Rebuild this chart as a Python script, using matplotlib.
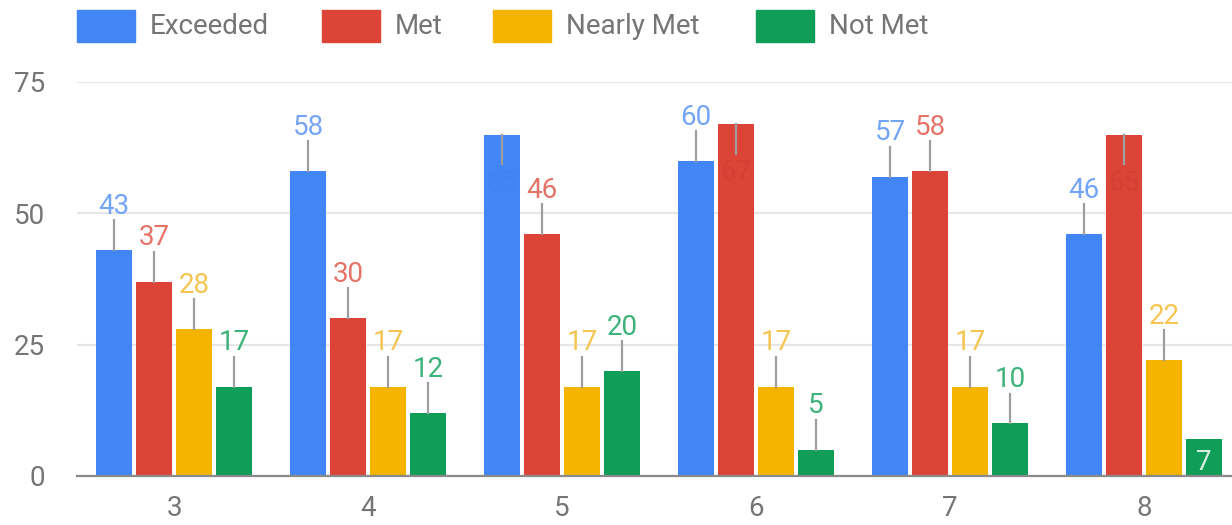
import matplotlib.pyplot as plt
from matplotlib.patches import Rectangle

# Data
grades = ['3', '4', '5', '6', '7', '8']
series = ['Exceeded', 'Met', 'Nearly Met', 'Not Met']
exceeded = [43, 58, 65, 60, 57, 46]
met = [37, 30, 46, 67, 58, 65]
nearly_met = [28, 17, 17, 17, 17, 22]
not_met = [17, 12, 20, 5, 10, 7]

colors = ['#4285F4', '#DB4437', '#F4B400', '#0F9D58']
label_colors = ['#74A4F5', '#E57368', '#F5C451', '#3DB27A']
inner_colors = ['#4083F0', '#D44134', '#EEAF00', '#D5EEE0']

plt.rcParams['font.family'] = ['Roboto', 'DejaVu Sans']

fig = plt.figure(figsize=(12.32, 5.25), dpi=100)
ax = fig.add_axes([77 / 1232, 49 / 525, 1164 / 1232, 394 / 525])

xs = range(len(grades))
step = 0.206
width = 0.19
stem = 5.7
values = [exceeded, met, nearly_met, not_met]

for i, vals in enumerate(values):
    offs = (i - 1.5) * step
    pos = [x + offs for x in xs]
    ax.bar(pos, vals, width=width, color=colors[i], zorder=2)
    for p, v in zip(pos, vals):
        if v > 62:
            # annotation doesn't fit above: stem goes down, label inside
            ax.plot([p, p], [v, v - stem], color='#9e9e9e', lw=1.6, zorder=3)
            ax.text(p, v - stem - 5.0, str(v), ha='center', va='baseline',
                    fontsize=20, color=inner_colors[i], zorder=3)
        elif i == 3 and 6 < v < 8:
            ax.text(p, 1.1, str(v), ha='center', va='baseline',
                    fontsize=20, color=inner_colors[3], zorder=3)
        else:
            ax.plot([p, p], [v, v + stem], color='#9e9e9e', lw=1.6, zorder=3)
            ax.text(p, v + 6.9, str(v), ha='center', va='baseline',
                    fontsize=20, color=label_colors[i], zorder=3,
                    clip_on=False)

ax.set_xlim(-0.5, 5.5)
ax.set_ylim(0, 75)
ax.set_yticks([0, 25, 50, 75])
ax.set_xticks(list(xs))
ax.set_xticklabels(grades)
ax.grid(axis='y', color='#e6e6e6', lw=1.5, zorder=0)
ax.set_axisbelow(True)
for s in ['top', 'right', 'left']:
    ax.spines[s].set_visible(False)
ax.spines['bottom'].set_color('#8a8a8a')
ax.spines['bottom'].set_linewidth(1.6)
ax.spines['bottom'].set_zorder(4)
ax.tick_params(axis='y', length=0, pad=23, labelsize=20, labelcolor='#757575')
ax.tick_params(axis='x', length=0, pad=14, labelsize=20, labelcolor='#757575')

# Legend drawn by hand across the top
leg_x = [77, 322, 493, 756]
for lx, name, c in zip(leg_x, series, colors):
    fig.patches.append(Rectangle((lx / 1232, 1 - 42 / 525), 58 / 1232, 32 / 525,
                                 transform=fig.transFigure, color=c))
    fig.text((lx + 73) / 1232, 1 - 27 / 525, name, ha='left', va='center',
             fontsize=20, color='#757575')

fig.savefig('out.png', dpi=100)
